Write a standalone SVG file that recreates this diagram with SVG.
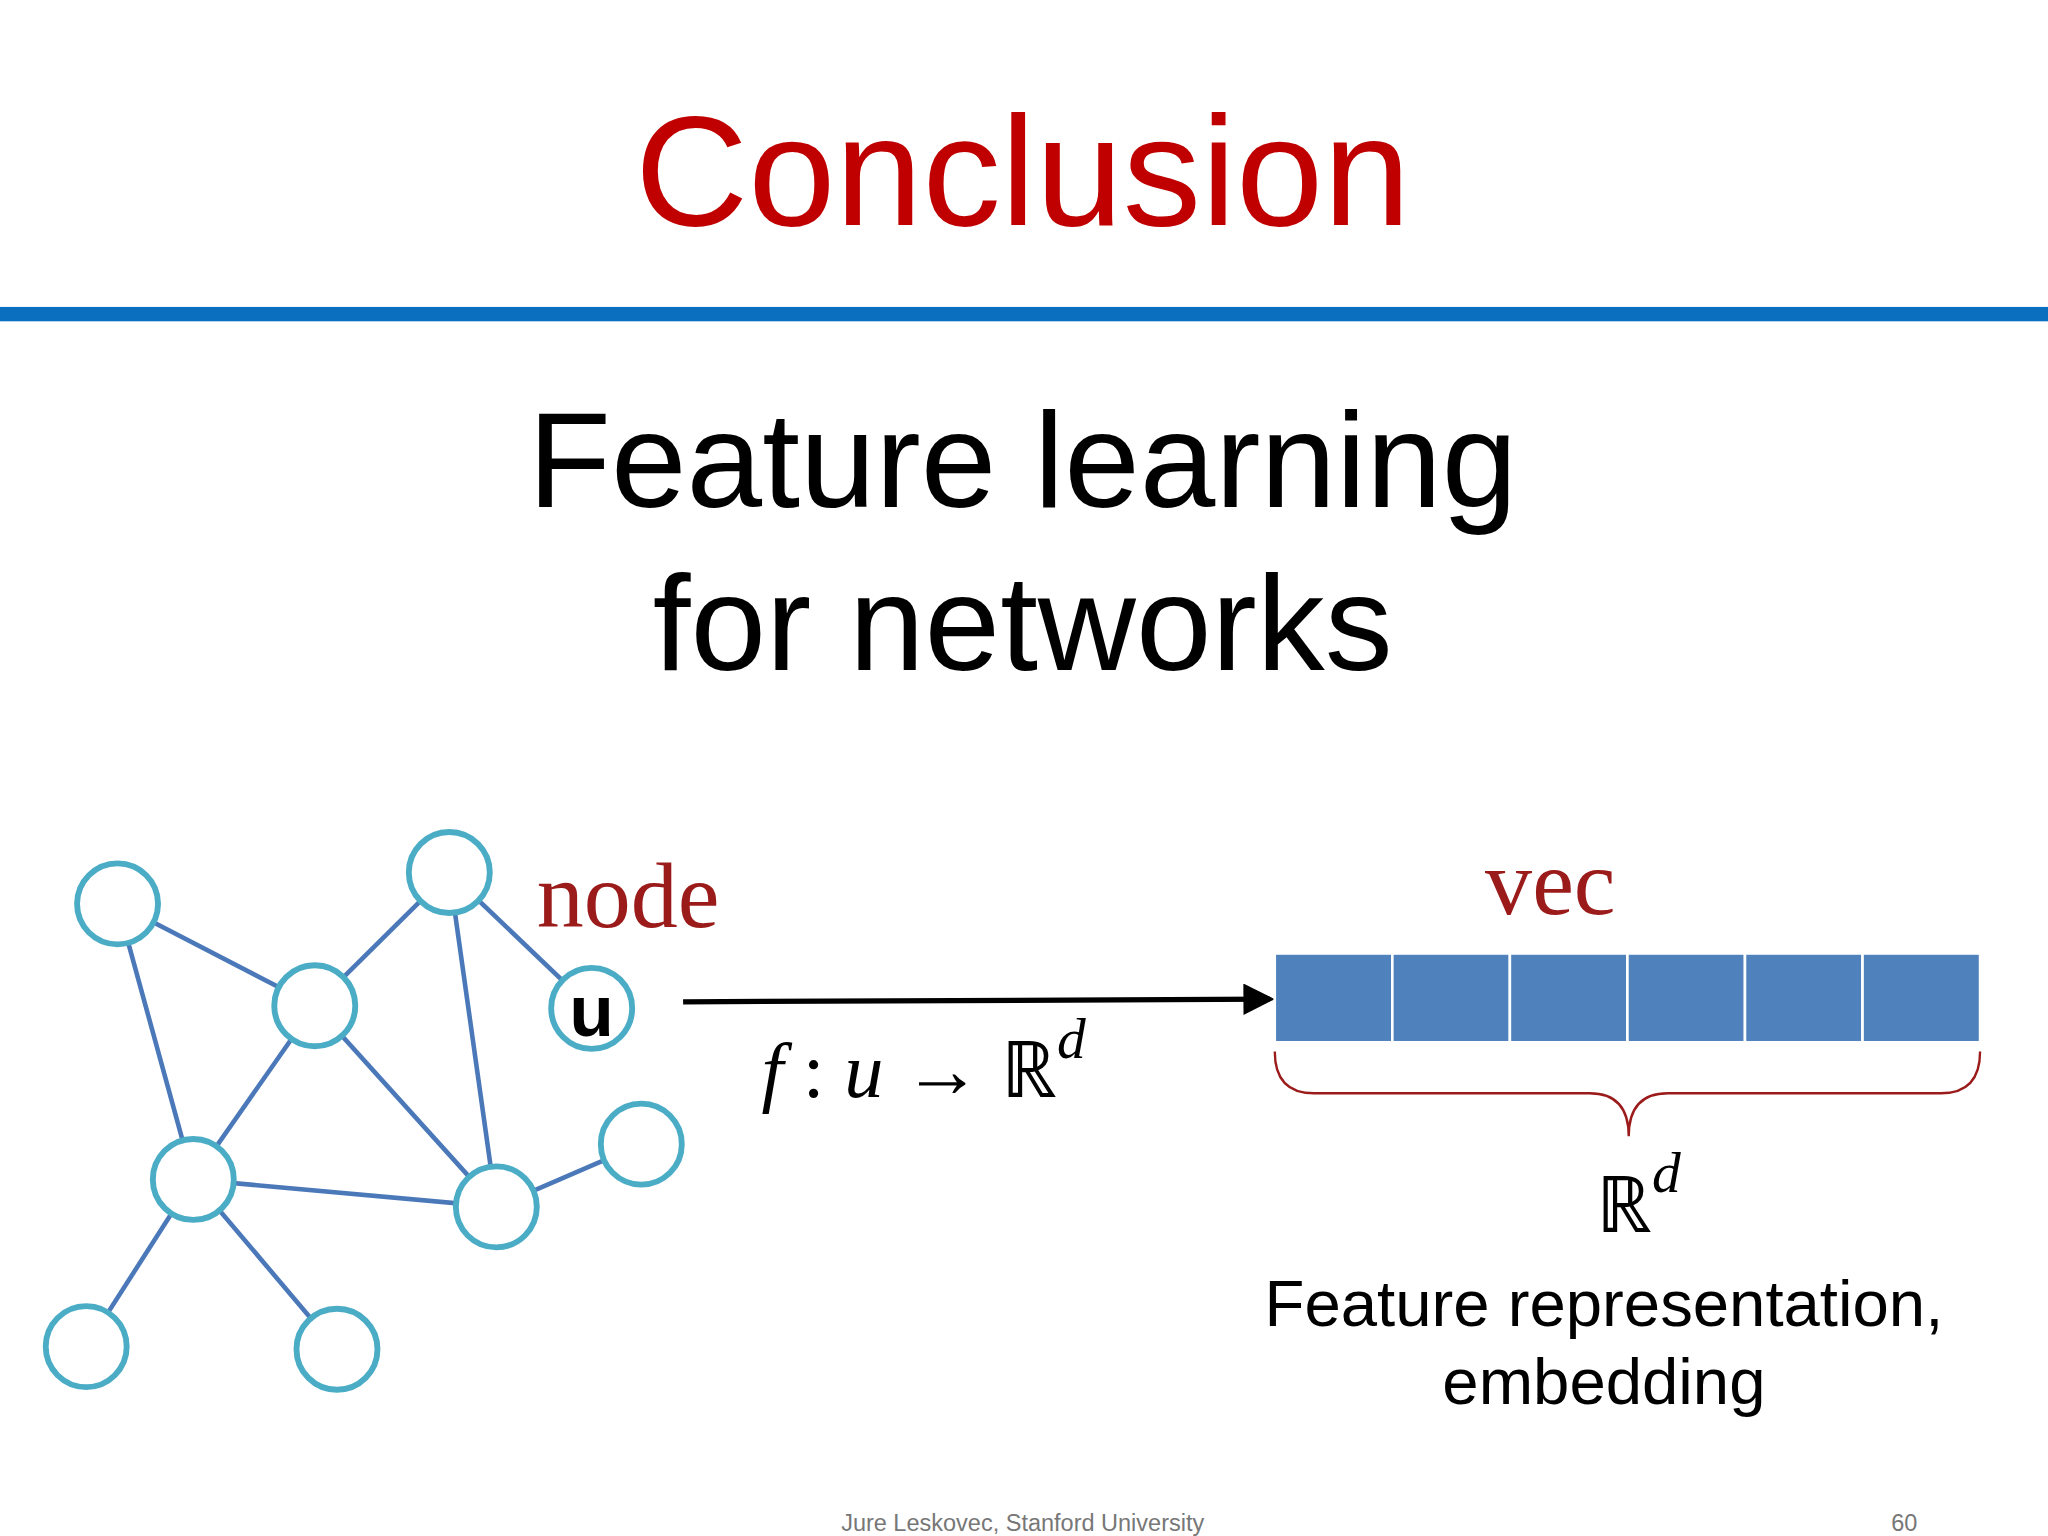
<svg xmlns="http://www.w3.org/2000/svg" width="2048" height="1536" viewBox="0 0 2048 1536">
<style>
.n{fill:#fff;stroke:#4BACC6;stroke-width:4.5}
.e{stroke:#4A78B8;stroke-width:3.5}
.s{font-family:"Liberation Sans",Arial,sans-serif}
.r{font-family:"Liberation Serif","Times New Roman",serif}
.c{fill:#4F81BD;stroke:#fff;stroke-width:2}
</style>
<defs><marker id="ah" markerWidth="6" markerHeight="6" refX="5" refY="3" orient="auto" markerUnits="strokeWidth"><path d="M0,0L6,3L0,6z" fill="#000"/></marker></defs>
<rect width="2048" height="1536" fill="#fff"/>
<g transform="scale(1.30612)">
<text class="s" x="783" y="172" font-size="120" fill="#C00000" text-anchor="middle">Conclusion</text>
<rect x="0" y="235" width="1568" height="11" fill="#0B6FC0"/>
<text class="s" x="783" y="388" font-size="104" text-anchor="middle">Feature learning</text>
<text class="s" x="783" y="513" font-size="104" text-anchor="middle">for networks</text>
<g id="connectors">
<line class="e" x1="90" y1="692" x2="241" y2="770"/>
<line class="e" x1="241" y1="770" x2="344" y2="668"/>
<line class="e" x1="344" y1="668" x2="453" y2="772"/>
<line class="e" x1="344" y1="668" x2="380" y2="924"/>
<line class="e" x1="90" y1="692" x2="148" y2="903"/>
<line class="e" x1="241" y1="770" x2="148" y2="903"/>
<line class="e" x1="241" y1="770" x2="380" y2="924"/>
<line class="e" x1="148" y1="903" x2="380" y2="924"/>
<line class="e" x1="380" y1="924" x2="491" y2="876"/>
<line class="e" x1="148" y1="903" x2="66" y2="1031"/>
<line class="e" x1="148" y1="903" x2="258" y2="1033"/>
<line x1="523" y1="767" x2="972" y2="765" stroke="#000" stroke-width="4" marker-end="url(#ah)"/>
</g>
<g id="n1"><circle class="n" cx="90" cy="692" r="31"/></g>
<g id="n2"><circle class="n" cx="344" cy="668" r="31"/></g>
<g id="n3"><circle class="n" cx="241" cy="770" r="31"/></g>
<g id="u"><circle class="n" cx="453" cy="772" r="31"/><text class="s" x="453" y="793" font-size="56" font-weight="bold" text-anchor="middle">u</text></g>
<g id="n5"><circle class="n" cx="148" cy="903" r="31"/></g>
<g id="n6"><circle class="n" cx="380" cy="924" r="31"/></g>
<g id="n7"><circle class="n" cx="491" cy="876" r="31"/></g>
<g id="n8"><circle class="n" cx="66" cy="1031" r="31"/></g>
<g id="n9"><circle class="n" cx="258" cy="1033" r="31"/></g>
<text class="r" x="411" y="710" font-size="72" fill="#9B1B1B">node</text>
<text class="r" x="1187" y="700" font-size="72" fill="#9B1B1B" text-anchor="middle">vec</text>
<text class="r" x="583" y="840" font-size="60"><tspan font-style="italic">f</tspan> : <tspan font-style="italic">u</tspan> → ℝ<tspan font-style="italic" font-size="44" dy="-30">d</tspan></text>
<g id="vec">
<rect class="c" x="976" y="730" width="90" height="68"/>
<rect class="c" x="1066" y="730" width="90" height="68"/>
<rect class="c" x="1156" y="730" width="90" height="68"/>
<rect class="c" x="1246" y="730" width="90" height="68"/>
<rect class="c" x="1336" y="730" width="90" height="68"/>
<rect class="c" x="1426" y="730" width="90" height="68"/>
</g>
<path d="M976,805 Q976,837 1006,837 L1217,837 Q1247,837 1247,870 Q1247,837 1277,837 L1486,837 Q1516,837 1516,805" fill="none" stroke="#9B1B1B" stroke-width="1.8"/>
<text class="r" x="1222" y="943" font-size="60">ℝ<tspan font-style="italic" font-size="44" dy="-30">d</tspan></text>
<text class="s" x="1228" y="1015" font-size="50" text-anchor="middle">Feature representation,</text>
<text class="s" x="1228" y="1075" font-size="50" text-anchor="middle">embedding</text>
<text class="s" x="783" y="1172" font-size="18" fill="#777" text-anchor="middle">Jure Leskovec, Stanford University</text>
<text class="s" x="1458" y="1172" font-size="18" fill="#777" text-anchor="middle">60</text>
</g>
</svg>
